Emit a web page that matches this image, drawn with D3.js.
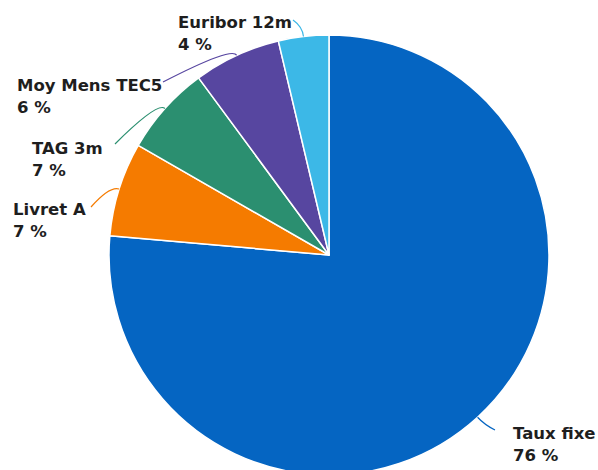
<!DOCTYPE html>
<html>
<head>
<meta charset="utf-8">
<script src="https://cdn.jsdelivr.net/npm/d3@7"></script>
<style>
  html, body { margin: 0; padding: 0; background: #fff; }
  svg { display: block; }
  text { font-family: "DejaVu Sans", sans-serif; font-weight: bold; font-size: 16.5px; fill: #1e1e1e; }
</style>
</head>
<body>
<svg id="chart" width="598" height="470"></svg>
<script>
// Répartition de l'encours par type de taux
const categories = ["Taux fixe", "Livret A", "TAG 3m", "Moy Mens TEC5", "Euribor 12m"];
const shares = [76.4, 6.9, 6.6, 6.4, 3.7];
const colors = ["#0565c2", "#f57b00", "#2b8f70", "#5746a0", "#3cb8e7"];

// Label layout: where each connector meets its label, and where the label text starts
const connectorEnds = [[495, 430], [91, 207], [115, 144], [163, 82], [293, 20]];
const labelOrigins = [[513, 439], [13, 215], [32, 154], [17, 91], [178, 28]];

const W = 598, H = 470;
const cx = 329, cy = 255, R = 220;

const svg = d3.select("#chart");
const g = svg.append("g").attr("transform", `translate(${cx},${cy})`);

const data = categories.map((c, i) => ({ name: c, value: shares[i], color: colors[i], i }));

const pie = d3.pie().sort(null).value(d => d.value);
const arcs = pie(data);
const arc = d3.arc().innerRadius(0).outerRadius(R);

g.selectAll("path.slice")
  .data(arcs)
  .join("path")
  .attr("class", "slice")
  .attr("d", arc)
  .attr("fill", d => d.data.color)
  .attr("stroke", "#ffffff")
  .attr("stroke-width", 1.5)
  .attr("stroke-linejoin", "round");

// point on a circle of radius r at the slice's mid angle
function polar(a, r) {
  return [Math.sin(a) * r, -Math.cos(a) * r];
}

const conn = svg.append("g");
arcs.forEach(d => {
  const a = (d.startAngle + d.endAngle) / 2;
  const p0 = polar(a, R);
  const p1 = polar(a, R + 10);
  const e = connectorEnds[d.data.i];
  const path = d3.path();
  path.moveTo(cx + p0[0], cy + p0[1]);
  path.quadraticCurveTo(cx + p1[0], cy + p1[1], e[0], e[1]);
  conn.append("path")
    .attr("d", path.toString())
    .attr("fill", "none")
    .attr("stroke", d.data.color)
    .attr("stroke-width", 1.2);
});

const fmt = v => `${Math.round(v)} %`;
const labels = svg.append("g");
arcs.forEach(d => {
  const o = labelOrigins[d.data.i];
  const t = labels.append("text").attr("x", o[0]).attr("y", o[1]);
  t.append("tspan").attr("x", o[0]).attr("y", o[1]).text(d.data.name);
  t.append("tspan").attr("x", o[0]).attr("y", o[1] + 22).text(fmt(d.data.value));
});
</script>
</body>
</html>
